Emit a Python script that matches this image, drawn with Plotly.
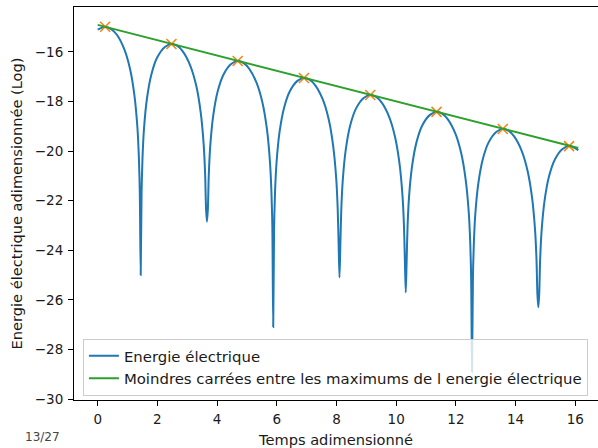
import plotly.graph_objects as go

# Energie électrique (log)
t_energy = [0.00, 0.25, 0.45, 0.63, 0.88, 1.08, 1.23, 1.33, 1.38, 1.41, 1.44,
            1.47, 1.50, 1.55, 1.65, 1.80, 2.00, 2.25, 2.47, 2.67, 2.85, 3.10, 3.30, 3.45, 3.55, 3.60, 3.63, 3.66,
            3.69, 3.72, 3.77, 3.87, 4.02, 4.22, 4.47, 4.69, 4.89, 5.07, 5.32, 5.52, 5.67, 5.77, 5.82, 5.85, 5.88,
            5.91, 5.94, 5.99, 6.09, 6.24, 6.44, 6.69, 6.91, 7.11, 7.29, 7.54, 7.74, 7.89, 7.99, 8.04, 8.07, 8.10,
            8.13, 8.16, 8.21, 8.31, 8.46, 8.66, 8.91, 9.13, 9.33, 9.51, 9.76, 9.96, 10.11, 10.21, 10.26, 10.29, 10.32,
            10.35, 10.38, 10.43, 10.53, 10.68, 10.88, 11.13, 11.35, 11.55, 11.73, 11.98, 12.18, 12.33, 12.43, 12.48, 12.51, 12.54,
            12.57, 12.60, 12.65, 12.75, 12.90, 13.10, 13.35, 13.57, 13.77, 13.95, 14.20, 14.40, 14.55, 14.65, 14.70, 14.73, 14.76,
            14.79, 14.82, 14.87, 14.97, 15.12, 15.32, 15.57, 15.79, 15.99, 16.10]
v_energy = [-15.10, -15.00, -15.08, -15.29, -15.86, -16.67, -17.75, -19.04, -20.28, -21.65, -25.00,
            -21.67, -20.31, -19.11, -17.88, -16.90, -16.21, -15.80, -15.68, -15.76, -15.98, -16.55, -17.36, -18.44, -19.73, -20.96, -22.34, -22.85,
            -22.36, -21.00, -19.80, -18.57, -17.59, -16.90, -16.49, -16.37, -16.45, -16.67, -17.24, -18.05, -19.13, -20.42, -21.65, -23.03, -27.10,
            -23.04, -21.68, -20.48, -19.25, -18.27, -17.58, -17.17, -17.05, -17.13, -17.35, -17.92, -18.73, -19.81, -21.10, -22.33, -23.71, -25.10,
            -23.73, -22.37, -21.17, -19.94, -18.96, -18.27, -17.86, -17.74, -17.82, -18.04, -18.61, -19.42, -20.50, -21.79, -23.02, -24.40, -25.70,
            -24.41, -23.05, -21.85, -20.62, -19.64, -18.95, -18.54, -18.42, -18.50, -18.72, -19.29, -20.10, -21.18, -22.47, -23.70, -25.08, -28.90,
            -25.10, -23.74, -22.54, -21.31, -20.33, -19.64, -19.23, -19.11, -19.19, -19.41, -19.98, -20.79, -21.87, -23.16, -24.39, -25.77, -26.30,
            -25.79, -24.43, -23.23, -22.00, -21.02, -20.33, -19.92, -19.80, -19.88, -19.97]

# Maximums (orange crosses)
t_max = [0.25, 2.47, 4.69, 6.91, 9.13, 11.35, 13.57, 15.79]
v_max = [-14.99, -15.68, -16.37, -17.05, -17.74, -18.42, -19.11, -19.80]

# Least-squares line between the maximums
t_fit = [0.00, 16.10]
v_fit = [-14.91, -19.88]

x_ticks = [0, 2, 4, 6, 8, 10, 12, 14, 16]
y_ticks = [-30, -28, -26, -24, -22, -20, -18, -16]

FONT = "DejaVu Sans"
TICK_SIZE = 13.5
LABEL_SIZE = 14.6
LEGEND_SIZE = 14.9

fig = go.Figure()
fig.add_trace(go.Scatter(x=t_energy, y=v_energy, mode="lines",
                         line=dict(color="#1f77b4", width=2, shape="spline", smoothing=0.8),
                         name="Energie électrique"))
fig.add_trace(go.Scatter(x=t_max, y=v_max, mode="markers",
                         marker=dict(symbol="x-thin", size=10, line=dict(color="#ff7f0e", width=1.5)),
                         showlegend=False))
fig.add_trace(go.Scatter(x=t_fit, y=v_fit, mode="lines",
                         line=dict(color="#2ca02c", width=2),
                         name="Moindres carrées entre les maximums de l energie électrique"))

fig.update_layout(
    width=598, height=448,
    margin=dict(l=74, r=0, t=7, b=48, pad=0),
    paper_bgcolor="white", plot_bgcolor="white",
    font=dict(family=FONT, size=TICK_SIZE, color="black"),
    legend=dict(x=0.017, y=0.011, xanchor="left", yanchor="bottom",
                bgcolor="rgba(255,255,255,0.8)", bordercolor="#cccccc", borderwidth=1,
                font=dict(family=FONT, size=LEGEND_SIZE, color="#1a1a1a"), itemwidth=30),
    annotations=[dict(text="13/27", xref="paper", yref="paper", x=-0.061, y=-0.116,
                      xanchor="center", yanchor="bottom", showarrow=False,
                      font=dict(family=FONT, size=12, color="#444444"))],
)
fig.update_xaxes(range=[-0.794, 16.76], tickvals=x_ticks, ticktext=[str(v) for v in x_ticks],
                 showgrid=False, zeroline=False, showline=True, linecolor="black", linewidth=1,
                 mirror=True, ticks="outside", ticklen=5, tickcolor="black", tickwidth=1,
                 ticklabelstandoff=2, tickfont=dict(family=FONT, size=TICK_SIZE, color="#1a1a1a"),
                 title=dict(text="Temps adimensionné", font=dict(family=FONT, size=LABEL_SIZE, color="#1a1a1a"),
                            standoff=9))
fig.update_yaxes(range=[-30.04, -14.19], tickvals=y_ticks,
                 ticktext=["\u2212" + str(abs(v)) for v in y_ticks],
                 showgrid=False, zeroline=False, showline=True, linecolor="black", linewidth=1,
                 mirror=False, ticks="outside", ticklen=5, tickcolor="black", tickwidth=1,
                 ticklabelstandoff=2, tickfont=dict(family=FONT, size=TICK_SIZE, color="#1a1a1a"),
                 title=dict(text="Energie électrique adimensionnée (Log)",
                            font=dict(family=FONT, size=LABEL_SIZE, color="#1a1a1a"), standoff=8))

fig.write_html("out.html")
